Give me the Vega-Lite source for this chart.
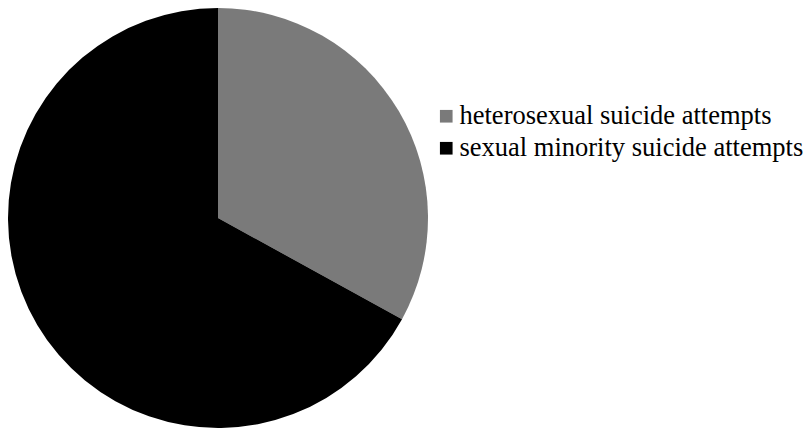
{
  "$schema": "https://vega.github.io/schema/vega-lite/v6.json",
  "width": 436,
  "height": 436,
  "autosize": {"type": "none"},
  "padding": {"left": 0, "top": 0, "right": 374, "bottom": 0},
  "background": "white",
  "data": {"values": [
    {"group": "heterosexual suicide attempts", "value": 33, "ord": 1},
    {"group": "sexual minority suicide attempts", "value": 67, "ord": 2}
  ]},
  "mark": {"type": "arc", "outerRadius": 210, "stroke": null},
  "encoding": {
    "theta": {"field": "value", "type": "quantitative", "stack": true},
    "order": {"field": "ord", "type": "quantitative"},
    "color": {
      "field": "group", "type": "nominal",
      "scale": {"domain": ["heterosexual suicide attempts", "sexual minority suicide attempts"], "range": ["#7a7a7a", "#000000"]},
      "legend": {
        "title": null,
        "orient": "none",
        "legendX": 433,
        "legendY": 103,
        "symbolType": "square",
        "symbolSize": 160,
        "symbolStrokeWidth": 0,
        "symbolOpacity": 1,
        "labelFont": "Liberation Serif",
        "labelFontSize": 26.5,
        "labelColor": "#000000",
        "labelOffset": 0,
        "rowPadding": 5,
        "labelLimit": 400
      }
    }
  },
  "config": {"view": {"stroke": null}, "font": "Liberation Serif"}
}
